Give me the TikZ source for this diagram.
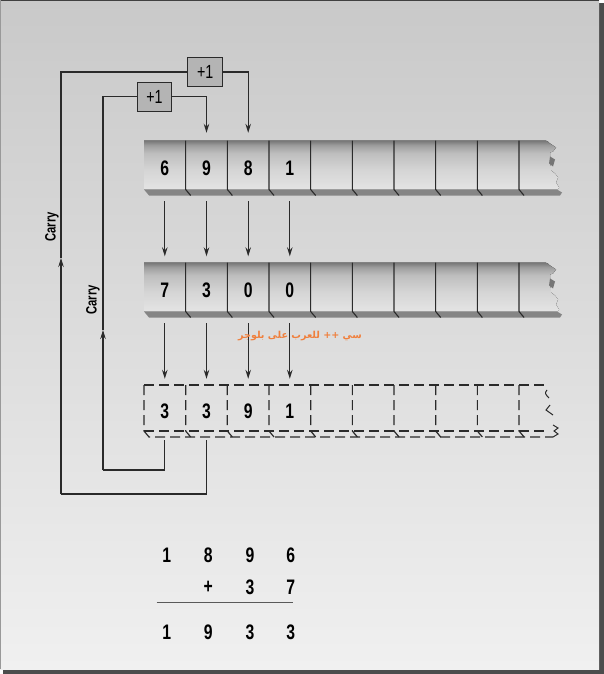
\documentclass[tikz,border=0pt]{standalone}
\usepackage{fontspec}
\setmainfont{Liberation Sans}
\newfontfamily\digitfont{Liberation Sans}[FakeStretch=0.75]
\newfontfamily\arabicfont[Script=Arabic]{DejaVu Sans}
\TeXXeTstate=1
\usetikzlibrary{arrows.meta}
\definecolor{fcA}{HTML}{E4E4E4}
\definecolor{fcB}{HTML}{D5D5D5}
\definecolor{fcC}{HTML}{BEBEBE}
\definecolor{fcD}{HTML}{9E9E9E}
\definecolor{fcE}{HTML}{767676}
\definecolor{stripgray}{HTML}{858585}
\definecolor{wirecol}{HTML}{2A2A2A}
\definecolor{boxgray}{HTML}{B4B4B4}
\definecolor{bgtop}{HTML}{C9C9C9}
\definecolor{bgbot}{HTML}{F0F0F0}
\definecolor{wmorange}{HTML}{F07F3C}
\pgfdeclareverticalshading{regface}{100bp}{color(0bp)=(fcA); color(25bp)=(fcA); color(45bp)=(fcB); color(62bp)=(fcC); color(70bp)=(fcD); color(75bp)=(fcE); color(100bp)=(fcE)}
\tikzset{
  wire/.style={draw=wirecol, line width=1.2pt},
  arr/.style={wire, -{Stealth[length=9pt,width=5.5pt,inset=3pt]}},
  cell/.style={minimum width=41.67pt, minimum height=55pt, inner sep=0pt, font=\digitfont\bfseries\fontsize{21}{21}\selectfont},
  dcell/.style={cell, minimum height=52pt},
  divider/.style={draw=wirecol, line width=1.1pt},
  dsh/.style={draw=wirecol, line width=1.2pt, dash pattern=on 10pt off 5pt},
  plusbox/.style={draw=wirecol, fill=boxgray, line width=1pt, minimum width=34.5pt, minimum height=29pt, inner sep=0pt, font=\digitfont\fontsize{19}{19}\selectfont},
  carrylab/.style={rotate=90, inner sep=0pt, font=\digitfont\bfseries\fontsize{15}{15}\selectfont},
  sumdig/.style={inner sep=0pt, font=\digitfont\bfseries\fontsize{21}{21}\selectfont},
  arabic/.style={inner sep=0pt, text=wmorange, font=\arabicfont\bfseries\fontsize{9.6}{9.6}\selectfont}
}
\newcommand\solidreg[1]{%
  \begin{scope}[shift={(0,#1)}]
    \fill[shading=regface] (144,0) -- (543,0) .. controls (547,0) and (549,1) .. (550,3) -- (556,7) -- (553,11) -- (550,12) -- (551,30) -- (555,33) -- (558,37) -- (556,42) -- (559,47) -- (557,49) -- (144,49) -- cycle;
    \fill[fcE] (550,16) -- (555,19) -- (553,26) -- (549,23) -- cycle;
    \fill[stripgray] (144,49) -- (557,49) -- (562,52) -- (560,55) -- (149,55) -- cycle;
    \foreach \i in {1,...,9} \draw[divider] (144+41.67*\i,0) -- ++(0,49) -- ++(5,6);
  \end{scope}}
\begin{document}
\begin{tikzpicture}[x=1pt,y=-1pt]
\useasboundingbox (0,0) rectangle (604,674);
% frame
\fill[black!70] (3,3) rectangle (604,674);
\shade[top color=bgtop, bottom color=bgbot] (0,0) rectangle (599,669);
\draw[black!75, line width=1pt] (0,0.5) -- (599,0.5);
\draw[black!40, line width=0.8pt] (0.4,0) -- (0.4,669);

% registers
\solidreg{140.5}
\solidreg{262.5}
\begin{scope}[shift={(0,385)}]
  \draw[dsh] (144,0) -- (548,0);
  \draw[dsh] (144,0) -- (144,46) -- (149,52) -- (553,52);
  \draw[dsh] (144,46) -- (548,46);
  \foreach \i in {1,...,9} \draw[dsh] (144+41.67*\i,0) -- ++(0,46) -- ++(5,6);
  \draw[wire, line width=1pt] (547,5) .. controls (544,8) and (546,10) .. (549,13);
  \draw[wire, line width=1pt] (550,20) -- (546,25) -- (553,30);
  \draw[wire, line width=1pt] (553,40) -- (558,43) -- (554,46) -- (558,49) -- (553,52);
\end{scope}

% cells
\node[cell] (a1) at (164.8,168) {6};
\node[cell] (a2) at (206.5,168) {9};
\node[cell] (a3) at (248.2,168) {8};
\node[cell] (a4) at (289.8,168) {1};
\node[cell] (b1) at (164.8,290) {7};
\node[cell] (b2) at (206.5,290) {3};
\node[cell] (b3) at (248.2,290) {0};
\node[cell] (b4) at (289.8,290) {0};
\node[dcell] (c1) at (164.8,411) {3};
\node[dcell] (c2) at (206.5,411) {3};
\node[dcell] (c3) at (248.2,411) {9};
\node[dcell] (c4) at (289.8,411) {1};

% vertical arrows
\foreach \k in {1,...,4} {
  \draw[arr, shorten <=5.5pt, shorten >=6pt] (a\k.south) -- (b\k.north);
  \draw[arr, shorten <=5.5pt, shorten >=6pt] (b\k.south) -- (c\k.north);
}

% +1 boxes
\node[plusbox] (p1) at (205.2,72) {+1};
\node[plusbox] (p2) at (154.5,96.8) {+1};

% carry loops
\coordinate (o1) at (61,494);
\coordinate (oa) at (61,258);
\coordinate (i1) at (103,470);
\coordinate (ia) at (103,330);
\draw[wire, shorten <=3pt] (c2.south) |- (o1);
\draw[arr] (o1) -- (oa);
\draw[wire] (oa) |- (p1.west);
\draw[arr, shorten >=7.5pt] (p1.east) -| (a3.north);
\draw[wire, shorten <=3pt] (c1.south) |- (i1);
\draw[arr] (i1) -- (ia);
\draw[wire] (ia) |- (p2.west);
\draw[arr, shorten >=7.5pt] (p2.east) -| (a2.north);
\node[carrylab] (cl1) at (52,227) {Carry};
\node[carrylab] (cl2) at (93,300) {Carry};

% watermark
\node[arabic] (wm) at (300,336) {\beginR سي ++ للعرب على بلوجر\endR};

% sum
\node[sumdig] (s1) at (166.7,555) {1};
\node[sumdig] (s2) at (208.3,555) {8};
\node[sumdig] (s3) at (250,555) {9};
\node[sumdig] (s4) at (290.7,555) {6};
\node[sumdig] (s5) at (208.3,587) {+};
\node[sumdig] (s6) at (250,587) {3};
\node[sumdig] (s7) at (290.7,587) {7};
\coordinate (sl) at (156.7,602.7);
\coordinate (sr) at (292.7,602.7);
\draw[draw=black!65, line width=1.3pt] (sl) -- (sr);
\node[sumdig] (s8) at (166.7,632) {1};
\node[sumdig] (s9) at (208.3,632) {9};
\node[sumdig] (s10) at (250,632) {3};
\node[sumdig] (s11) at (290.7,632) {3};
\end{tikzpicture}
\end{document}
